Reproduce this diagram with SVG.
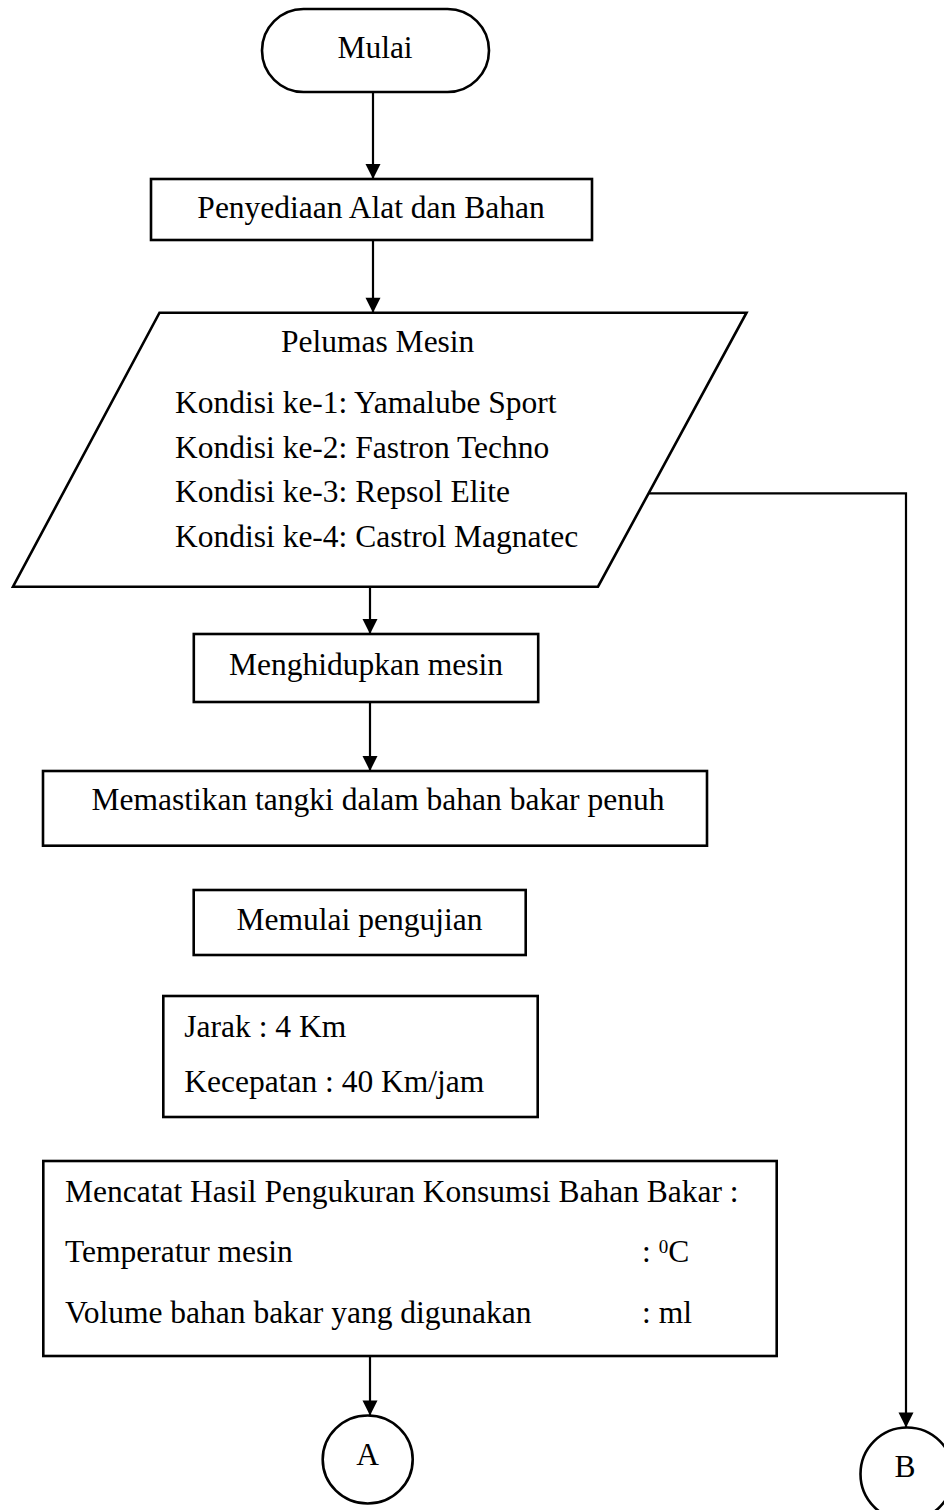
<svg xmlns="http://www.w3.org/2000/svg" width="944" height="1510" viewBox="0 0 944 1510">
  <style>
    .shape { fill: #ffffff; stroke: #000000; stroke-width: 2.6; }
    .lbl { font-family: "Liberation Serif", "Times New Roman", serif; font-size: 31.5px; fill: #000000; }
    .mid { text-anchor: middle; }
    .sup { font-size: 19px; }
    .edge { fill: none; stroke: #000000; stroke-width: 2.2; }
  </style>
  <defs>
    <marker id="arrow" markerUnits="userSpaceOnUse" markerWidth="17" markerHeight="17" viewBox="0 0 17 17" refX="16" refY="8.5" orient="auto">
      <path d="M1,1 L16,8.5 L1,16 Z" fill="#000000"/>
    </marker>
  </defs>

  <rect x="0" y="0" width="944" height="1510" fill="#ffffff"/>

  <!-- connectors -->
  <g id="connectors">
    <path class="edge" d="M373,92 V179" marker-end="url(#arrow)"/>
    <path class="edge" d="M373,240 V312.7" marker-end="url(#arrow)"/>
    <path class="edge" d="M370,586.7 V634" marker-end="url(#arrow)"/>
    <path class="edge" d="M370,702 V771" marker-end="url(#arrow)"/>
    <path class="edge" d="M370,1356 V1415.5" marker-end="url(#arrow)"/>
    <path class="edge" d="M648.6,493.3 H906 V1427.5" marker-end="url(#arrow)"/>
  </g>

  <!-- start terminal -->
  <g id="mulai">
    <rect class="shape" x="262" y="9" width="227" height="83" rx="41.5" ry="41.5"/>
    <text class="lbl mid" x="375" y="58">Mulai</text>
  </g>

  <g id="penyediaan">
    <rect class="shape" x="151" y="179" width="441" height="61"/>
    <text class="lbl mid" x="371" y="218">Penyediaan Alat dan Bahan</text>
  </g>

  <!-- input: engine oils -->
  <g id="pelumas">
    <polygon class="shape" points="159.5,312.7 746.5,312.7 598,586.7 13,586.7"/>
    <text class="lbl" x="281" y="352">Pelumas Mesin</text>
    <text class="lbl" x="175" y="413">Kondisi ke-1: Yamalube Sport</text>
    <text class="lbl" x="175" y="457.5">Kondisi ke-2: Fastron Techno</text>
    <text class="lbl" x="175" y="502">Kondisi ke-3: Repsol Elite</text>
    <text class="lbl" x="175" y="547">Kondisi ke-4: Castrol Magnatec</text>
  </g>

  <g id="menghidupkan">
    <rect class="shape" x="193.8" y="634" width="344.4" height="68"/>
    <text class="lbl mid" x="366" y="675">Menghidupkan mesin</text>
  </g>

  <g id="memastikan">
    <rect class="shape" x="43" y="771" width="664" height="74.7"/>
    <text class="lbl mid" x="378" y="810">Memastikan tangki dalam bahan bakar penuh</text>
  </g>

  <g id="memulai">
    <rect class="shape" x="193.7" y="890" width="332" height="65"/>
    <text class="lbl mid" x="359.5" y="930">Memulai pengujian</text>
  </g>

  <g id="parameter">
    <rect class="shape" x="163.3" y="996" width="374.4" height="121"/>
    <text class="lbl" x="184.3" y="1036.7">Jarak : 4 Km</text>
    <text class="lbl" x="184.3" y="1091.7">Kecepatan : 40 Km/jam</text>
  </g>

  <g id="mencatat">
    <rect class="shape" x="43.3" y="1161" width="733.4" height="195"/>
    <text class="lbl" x="65" y="1201.7">Mencatat Hasil Pengukuran Konsumsi Bahan Bakar :</text>
    <text class="lbl" x="65" y="1261.7">Temperatur mesin</text>
    <text class="lbl" x="642" y="1261.7">: <tspan class="sup" dy="-9">0</tspan><tspan dy="9">C</tspan></text>
    <text class="lbl" x="65" y="1322.7">Volume bahan bakar yang digunakan</text>
    <text class="lbl" x="642" y="1322.7">: ml</text>
  </g>

  <!-- off-page connectors -->
  <g id="konektor-a">
    <ellipse class="shape" cx="367.7" cy="1459.5" rx="45" ry="44"/>
    <text class="lbl mid" x="367.7" y="1465" font-size="30">A</text>
  </g>

  <g id="konektor-b">
    <circle class="shape" cx="907" cy="1474" r="46.5"/>
    <text class="lbl mid" x="905" y="1477" font-size="30">B</text>
  </g>
</svg>
